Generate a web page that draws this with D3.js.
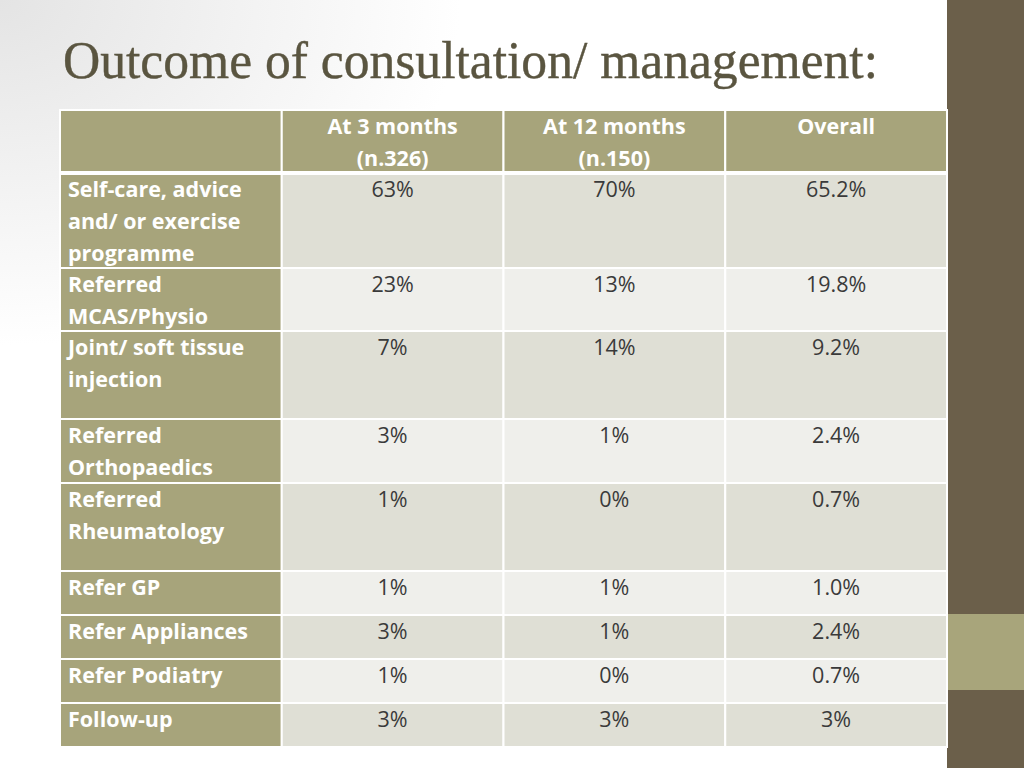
<!DOCTYPE html>
<html><head><meta charset="utf-8">
<script src="https://cdn.jsdelivr.net/npm/d3@7"></script>
<style>html,body{margin:0;padding:0;background:#fff;}svg{display:block;}</style>
</head><body>
<script>
const title = "Outcome of consultation/ management:";
const columns = ["", "At 3 months\n(n.326)", "At 12 months\n(n.150)", "Overall"];
const categories = [
  "Self-care, advice\nand/ or exercise\nprogramme",
  "Referred\nMCAS/Physio",
  "Joint/ soft tissue\ninjection",
  "Referred\nOrthopaedics",
  "Referred\nRheumatology",
  "Refer GP",
  "Refer Appliances",
  "Refer Podiatry",
  "Follow-up"
];
const at3months = ["63%", "23%", "7%", "3%", "1%", "1%", "3%", "1%", "3%"];
const at12months = ["70%", "13%", "14%", "1%", "0%", "1%", "1%", "0%", "3%"];
const overall = ["65.2%", "19.8%", "9.2%", "2.4%", "0.7%", "1.0%", "2.4%", "0.7%", "3%"];

// layout (px heights of header + rows)
const rowHeights = [63, 95, 63, 88, 64, 88, 44, 44, 44, 44];

const W = 1024, H = 768;
const svg = d3.select("body").append("svg").attr("width", W).attr("height", H);
const defs = svg.append("defs");
const rg = defs.append("radialGradient").attr("id", "bg").attr("cx", "0").attr("cy", "0").attr("r", "0.45")
  .attr("gradientUnits", "objectBoundingBox");
rg.append("stop").attr("offset", "0").attr("stop-color", "#e4e4e4");
rg.append("stop").attr("offset", "1").attr("stop-color", "#ffffff");
svg.append("rect").attr("width", W).attr("height", H).attr("fill", "url(#bg)");

// right decorative bar
svg.append("rect").attr("x", 947).attr("y", 0).attr("width", W - 947).attr("height", H).attr("fill", "#6b5f4a");
svg.append("rect").attr("x", 947).attr("y", 614).attr("width", W - 947).attr("height", 76).attr("fill", "#a8a57b");

// title
svg.append("text").attr("x", 63).attr("y", 78)
  .attr("font-family", "Liberation Serif, DejaVu Serif, serif")
  .attr("font-size", 53).attr("fill", "#5a5540")
  .attr("stroke", "#5a5540").attr("stroke-width", 0.4)
  .attr("textLength", 815).attr("lengthAdjust", "spacingAndGlyphs")
  .text(title);

// scales
const x = d3.scaleBand().domain(d3.range(columns.length)).range([60, 947]).padding(0);
const cum = [0]; rowHeights.forEach(h => cum.push(cum[cum.length - 1] + h));
const y = d3.scaleLinear().domain([0, cum[cum.length - 1]]).range([110, 110 + cum[cum.length - 1]]);

const rows = [];
rows.push(columns.map((c, i) => ({ text: c, kind: "head", col: i })));
categories.forEach((cat, r) => {
  rows.push([
    { text: cat, kind: "label", col: 0 },
    { text: at3months[r], kind: "val", col: 1 },
    { text: at12months[r], kind: "val", col: 2 },
    { text: overall[r], kind: "val", col: 3 }
  ]);
});

const font = "'Open Sans', Lato, sans-serif";
const g = svg.append("g");
rows.forEach((row, ri) => {
  const top = y(cum[ri]), h = y(cum[ri + 1]) - top;
  row.forEach(cell => {
    let fill;
    if (cell.kind === "head" || cell.kind === "label") fill = "#a7a47b";
    else fill = (ri % 2 === 1) ? "#dfdfd5" : "#efefeb";
    g.append("rect").attr("x", x(cell.col)).attr("y", top)
      .attr("width", x.bandwidth()).attr("height", h)
      .attr("fill", fill).attr("stroke", "#ffffff").attr("stroke-width", 2);
    const lines = cell.text.split("\n");
    const t = g.append("text")
      .attr("font-family", font).attr("font-size", 21.5)
      .attr("font-weight", cell.kind === "val" ? "normal" : "bold")
      .attr("fill", cell.kind === "val" ? "#3a3a3a" : "#ffffff")
      .attr("text-anchor", cell.kind === "label" ? "start" : "middle");
    const tx = cell.kind === "label" ? x(cell.col) + 8 : x(cell.col) + x.bandwidth() / 2;
    lines.forEach((ln, li) => {
      t.append("tspan").attr("x", tx).attr("y", top + 24 + li * 32).text(ln);
    });
  });
});
// thicker separator below header
svg.append("line").attr("x1", 60).attr("x2", 947).attr("y1", y(cum[1])).attr("y2", y(cum[1]))
  .attr("stroke", "#fff").attr("stroke-width", 4);
</script>
</body></html>
